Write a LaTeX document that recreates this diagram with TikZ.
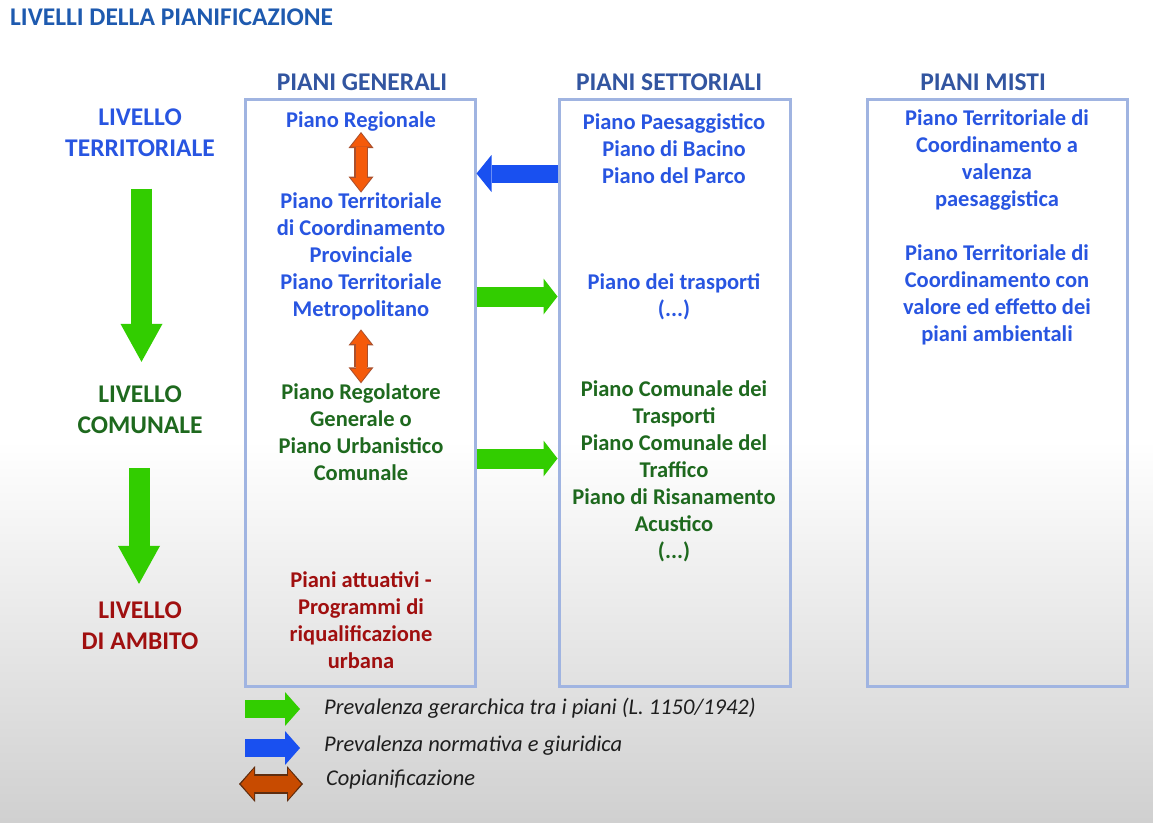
\documentclass[tikz,border=0pt]{standalone}
\usepackage{fontspec}
\setmainfont{Carlito}
\usetikzlibrary{arrows.meta, positioning, calc}
\definecolor{titleblue}{RGB}{30,90,175}
\definecolor{headblue}{RGB}{50,85,160}
\definecolor{planblue}{RGB}{40,85,225}
\definecolor{plangreen}{RGB}{30,105,30}
\definecolor{planred}{RGB}{160,15,15}
\definecolor{panelline}{RGB}{160,180,225}
\definecolor{arrgreen}{RGB}{50,205,0}
\definecolor{arrblue}{RGB}{25,80,240}
\definecolor{arrorange}{RGB}{245,90,10}
\definecolor{orangeline}{RGB}{170,80,45}
\definecolor{legorange}{RGB}{200,75,0}
\definecolor{legline}{RGB}{95,45,15}
\definecolor{legtext}{RGB}{30,30,30}
\definecolor{bggray}{RGB}{208,208,208}
\tikzset{
         panel/.style={draw=panelline, line width=3pt, inner sep=0pt, minimum height=587pt},
         headtxt/.style={font=\fontsize{25.5}{29}\selectfont\bfseries, text=headblue, inner sep=0pt},
         lvltxt/.style={font=\fontsize{25.5}{31}\selectfont\bfseries, align=center, inner sep=0pt},
         plantxt/.style={font=\fontsize{22.5}{27}\selectfont\bfseries, align=center, inner sep=0pt},
         legtxt/.style={font=\fontsize{22.5}{26}\selectfont\itshape, text=legtext, anchor=west, inner sep=0pt},
         leveldown/.style={draw=arrgreen, line width=21pt, -{Triangle[width=42pt,length=38pt,line width=0pt]}},
         hierarrow/.style={draw=arrgreen, line width=20pt, -{Triangle[width=36pt,length=14pt,line width=0pt]}},
         normarrow/.style={draw=arrblue, line width=18pt, -{Triangle[width=37pt,length=15pt,line width=0pt]}},
         copianout/.style={draw=orangeline, line width=14pt, {Triangle[width=25pt,length=16pt,line width=0pt]}-{Triangle[width=25pt,length=16pt,line width=0pt]}},
         copianin/.style={draw=arrorange, line width=11pt, shorten <=1.5pt, shorten >=1.5pt, {Triangle[width=20pt,length=13pt,line width=0pt]}-{Triangle[width=20pt,length=13pt,line width=0pt]}}
      }

\begin{document}
\begin{tikzpicture}[x=1pt,y=-1pt]
  \useasboundingbox (0,0) rectangle (1153,822);
  \fill[white] (0,0) rectangle (1153,822);
  \shade[top color=white, bottom color=bggray] (0,440) rectangle (1153,822);

  \node[anchor=west, inner sep=0pt, font=\fontsize{25.5}{29}\selectfont\bfseries, text=titleblue] (title) at (10,17) {LIVELLI DELLA PIANIFICAZIONE};

  % colonne
  \node[panel, minimum width=230pt] (gen) at (360,392.5) {};
  \node[panel, minimum width=231pt] (sett) at (674.5,392.5) {};
  \node[panel, minimum width=260pt] (misti) at (997,392.5) {};
  \node[headtxt] (hgen) at (362,82) {PIANI GENERALI};
  \node[headtxt] (hsett) at (669,82) {PIANI SETTORIALI};
  \node[headtxt] (hmisti) at (983,82) {PIANI MISTI};

  % livelli
  \node[lvltxt, text=planblue] (terr) at (140,132.5) {LIVELLO\\TERRITORIALE};
  \node[lvltxt, text=plangreen] (comu) at (140,410) {LIVELLO\\COMUNALE};
  \node[lvltxt, text=planred] (ambito) at (140,626) {LIVELLO\\DI AMBITO};
  \draw[leveldown, shorten <=32pt, shorten >=24pt] ([xshift=1.5pt]terr.south) -- ([xshift=1.5pt]comu.north);
  \draw[leveldown, shorten <=34pt, shorten >=18pt] ([xshift=-1pt]comu.south) -- ([xshift=-1pt]ambito.north);

  % piani generali
  \node[plantxt, text=planblue] (reg) at (361,122) {Piano Regionale};
  \node[plantxt, text=planblue] (ptcp) at (361,256.5) {Piano Territoriale\\di Coordinamento\\Provinciale\\Piano Territoriale\\Metropolitano};
  \node[plantxt, text=plangreen] (prg) at (361,432) {Piano Regolatore\\Generale o\\Piano Urbanistico\\Comunale};
  \node[plantxt, text=planred] (attu) at (361,620.5) {Piani attuativi -\\Programmi di\\riqualificazione\\urbana};
  \draw[copianout, shorten <=0pt] (reg.south) -- (ptcp.north);
  \draw[copianin, shorten <=1.5pt] (reg.south) -- (ptcp.north);
  \draw[copianout, shorten <=9pt] (ptcp.south) -- (prg.north);
  \draw[copianin, shorten <=10.5pt] (ptcp.south) -- (prg.north);

  % piani settoriali
  \node[plantxt, text=planblue] (paes) at (674,148.5) {Piano Paesaggistico\\Piano di Bacino\\Piano del Parco};
  \node[plantxt, text=planblue] (trasp) at (674,296.5) {Piano dei trasporti\\(...)};
  \node[plantxt, text=plangreen] (pcom) at (674,471.5) {Piano Comunale dei\\Trasporti\\Piano Comunale del\\Traffico\\Piano di Risanamento\\Acustico\\(...)};
  \draw[normarrow] ([yshift=-76pt]sett.north west) -- ([yshift=-76pt]gen.north east);
  \draw[hierarrow] ([yshift=-199pt]gen.north east) -- ([yshift=-199pt]sett.north west);
  \draw[hierarrow] ([yshift=-361pt]gen.north east) -- ([yshift=-361pt]sett.north west);

  % piani misti
  \node[plantxt, text=planblue] (ptcpa) at (997,160.5) {Piano Territoriale di\\Coordinamento a\\valenza\\paesaggistica};
  \node[plantxt, text=planblue] (ptcpb) at (997,295) {Piano Territoriale di\\Coordinamento con\\valore ed effetto dei\\piani ambientali};

  % legenda
  \node[legtxt] (leg1) at (324,708) {Prevalenza gerarchica tra i piani (L. 1150/1942)};
  \node[legtxt] (leg2) at (324,746) {Prevalenza normativa e giuridica};
  \node[legtxt] (leg3) at (326,780) {Copianificazione};
  \draw[hierarrow, line width=18pt, -{Triangle[width=34pt,length=15pt,line width=0pt]}] ([xshift=-79pt,yshift=-1pt]leg1.west) -- ([xshift=-24pt,yshift=-1pt]leg1.west);
  \draw[normarrow, line width=18pt, -{Triangle[width=34pt,length=15pt,line width=0pt]}] ([xshift=-79pt,yshift=-2pt]leg2.west) -- ([xshift=-24pt,yshift=-2pt]leg2.west);
  \draw[copianout, draw=legline, line width=20pt, {Triangle[width=36pt,length=16pt,line width=0pt]}-{Triangle[width=36pt,length=16pt,line width=0pt]}] ([xshift=-87pt,yshift=-4pt]leg3.west) -- ([xshift=-23pt,yshift=-4pt]leg3.west);
  \draw[copianin, draw=legorange, line width=16pt, shorten <=2pt, shorten >=2pt, {Triangle[width=31pt,length=13pt,line width=0pt]}-{Triangle[width=31pt,length=13pt,line width=0pt]}] ([xshift=-87pt,yshift=-4pt]leg3.west) -- ([xshift=-23pt,yshift=-4pt]leg3.west);
\end{tikzpicture}
\end{document}
